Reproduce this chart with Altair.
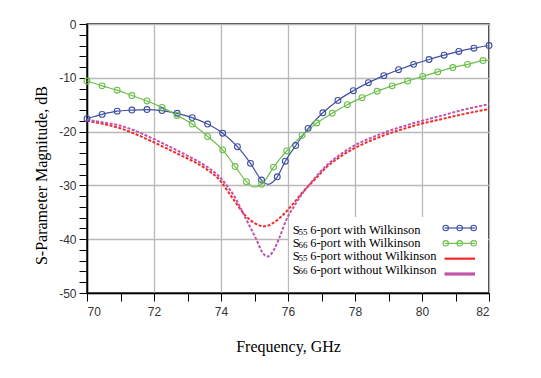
import altair as alt
import pandas as pd

# ---------------- data ----------------
series_names = ["S55 with", "S66 with", "S55 without", "S66 without"]
series_colors = ["#3f50a2", "#6cbf4c", "#f42a2a", "#c055aa"]
legend_main = ["S", "S", "S", "S"]
legend_sub = ["55", "66", "55", "66"]
legend_rest = [
    "6-port with Wilkinson",
    "6-port with Wilkinson",
    "6-port without Wilkinson",
    "6-port without Wilkinson",
]

# S55 with Wilkinson: marker points
s55w_f = [70.00, 70.45, 70.90, 71.34, 71.79, 72.24, 72.69, 73.14, 73.60, 74.05,
          74.49, 74.88, 75.21, 75.68, 75.92, 76.23, 76.60, 77.04, 77.49, 77.95,
          78.40, 78.86, 79.30, 79.75, 80.21, 80.66, 81.10, 81.55, 82.00]
s55w_db = [-17.6, -16.8, -16.2, -16.0, -15.9, -16.1, -16.6, -17.4, -18.6, -20.3,
           -22.8, -25.9, -29.0, -28.4, -25.5, -22.6, -19.4, -16.5, -14.2, -12.4,
           -10.9, -9.6, -8.5, -7.5, -6.6, -5.8, -5.1, -4.5, -4.0]
# extra curve points between markers
s55w_extra_f = [75.40]
s55w_extra_db = [-29.8]

# S66 with Wilkinson: marker points
s66w_f = [70.00, 70.45, 70.90, 71.34, 71.79, 72.24, 72.69, 73.14, 73.60, 74.05,
          74.42, 74.76, 75.21, 75.57, 75.96, 76.42, 76.86, 77.32, 77.77, 78.21,
          78.66, 79.11, 79.57, 80.02, 80.47, 80.92, 81.36, 81.82]
s66w_db = [-10.6, -11.5, -12.3, -13.3, -14.3, -15.5, -17.0, -18.6, -20.9, -23.4,
           -26.5, -29.3, -29.8, -26.6, -23.6, -20.7, -18.4, -16.6, -15.0, -13.7,
           -12.5, -11.5, -10.6, -9.75, -8.9, -8.1, -7.5, -6.8]
s66w_extra_f = [74.98, 82.00]
s66w_extra_db = [-30.3, -6.7]

# S55 without Wilkinson
s55n_f = [70.0, 70.5, 71.0, 71.5, 72.0, 72.5, 73.0, 73.5, 74.0, 74.36, 74.76,
          75.0, 75.3, 75.55, 75.8, 76.1, 76.45, 76.8, 77.15, 77.6, 78.04, 78.54,
          79.0, 79.5, 80.0, 80.43, 81.2, 82.0]
s55n_db = [-18.0, -18.6, -19.4, -20.6, -22.0, -23.5, -25.0, -26.7, -29.3, -32.5,
           -35.8, -37.0, -37.6, -37.0, -35.8, -33.8, -31.2, -28.9, -26.6, -24.5,
           -22.9, -21.5, -20.4, -19.4, -18.5, -17.9, -16.8, -15.8]

# S66 without Wilkinson
s66n_f = [70.0, 70.5, 71.0, 71.5, 72.0, 72.5, 73.0, 73.5, 74.0, 74.46,
          74.76, 75.06, 75.25, 75.4, 75.55, 75.75, 75.95, 76.2, 76.45, 76.75,
          77.15, 77.6, 78.04, 78.54, 79.0, 79.5, 80.0, 80.43, 81.2, 82.0]
s66n_db = [-17.8, -18.3, -18.9, -20.0, -21.4, -22.9, -24.5, -26.2, -28.7, -32.7,
           -36.4, -40.1, -42.6, -43.2, -42.3, -39.6, -36.4, -33.7, -31.3, -29.0,
           -26.3, -24.1, -22.4, -21.0, -19.9, -18.9, -18.0, -17.3, -16.0, -14.9]

x_ticks = list(range(70, 83))
y_ticks = list(range(-50, 1, 2))


def table(name, fs, dbs):
    return pd.DataFrame({"series": name, "f": fs, "db": dbs})


markers_df = pd.concat([table(series_names[0], s55w_f, s55w_db),
                        table(series_names[1], s66w_f, s66w_db)])
solid_df = pd.concat([
    table(series_names[0], s55w_f + s55w_extra_f, s55w_db + s55w_extra_db),
    table(series_names[1], s66w_f + s66w_extra_f, s66w_db + s66w_extra_db),
]).sort_values(["series", "f"])
dashed_df = pd.concat([table(series_names[2], s55n_f, s55n_db),
                       table(series_names[3], s66n_f, s66n_db)])
legend_df = pd.DataFrame({"series": series_names, "main": legend_main,
                          "sub": legend_sub, "rest": legend_rest})

# ---------------- chart ----------------
cscale = alt.Scale(domain=series_names, range=series_colors)
color = alt.Color("series:N", scale=cscale, legend=None)

x_axis = alt.Axis(
    values=x_ticks,
    labelExpr="datum.value % 2 === 0 ? '' + datum.value : ''",
    gridOpacity={"condition": {"test": "datum.value % 2 === 0", "value": 1}, "value": 0},
    title="Frequency, GHz",
    titleX=201, titleY=58, titleBaseline="alphabetic",
    labelPadding=5,
)
y_axis = alt.Axis(
    values=y_ticks,
    labelExpr="datum.value % 10 === 0 ? '' + datum.value : ''",
    gridOpacity={"condition": {"test": "datum.value % 10 === 0", "value": 1}, "value": 0},
    title="S-Parameter Magnitude, dB",
    titleX=-41, titleY=151, titleBaseline="alphabetic", titleAngle=270,
    labelPadding=3,
)

X = alt.X("f:Q", scale=alt.Scale(domain=[70, 82], nice=False, zero=False), axis=x_axis)
Y = alt.Y("db:Q", scale=alt.Scale(domain=[-50, 0], nice=False), axis=y_axis)

dashed = alt.Chart(dashed_df).mark_line(
    strokeDash=[3, 1.6], strokeWidth=2, interpolate="monotone"
).encode(x=X, y=Y, color=color)

solid = alt.Chart(solid_df).mark_line(
    strokeWidth=1.2, interpolate="monotone"
).encode(x=X, y=Y, color=color)

points = alt.Chart(markers_df).mark_point(
    shape="circle", filled=False, size=34, strokeWidth=1.1, opacity=1
).encode(x=X, y=Y, color=color)

main = alt.layer(dashed, solid, points)

# ---------------- manual legend ----------------
leg_bg = alt.Chart(legend_df).mark_rect(color="white").encode(
    x=alt.value(202), x2=alt.value(401), y=alt.value(193), y2=alt.value(268)
)

text_y = alt.Y("series:N", scale=alt.Scale(type="point", domain=series_names,
                                           range=[210, 249.5], padding=0), axis=None)
text_style = dict(align="left", baseline="alphabetic", font="Liberation Serif",
                  color="black")
leg_text = alt.layer(
    alt.Chart(legend_df).mark_text(fontSize=12.5, **text_style)
    .encode(x=alt.value(205.8), y=text_y, text="main:N"),
    alt.Chart(legend_df).mark_text(fontSize=9, dy=0.5, **text_style)
    .encode(x=alt.value(211.5), y=text_y, text="sub:N"),
    alt.Chart(legend_df).mark_text(fontSize=12.5, **text_style)
    .encode(x=alt.value(223.2), y=text_y, text="rest:N"),
)

sym_y = alt.Y("series:N", scale=alt.Scale(type="point", domain=series_names,
                                          range=[204, 250], padding=0), axis=None)
sym_layers = []
for name, w in zip(series_names, [1.2, 1.2, 2.2, 3.2]):
    sym_layers.append(
        alt.Chart(legend_df).transform_filter(alt.datum.series == name)
        .mark_rule(strokeWidth=w)
        .encode(x=alt.value(357.5), x2=alt.value(388), y=sym_y, color=color)
    )
for xpos in [358.7, 372.7, 386.7]:
    sym_layers.append(
        alt.Chart(legend_df).transform_filter(
            alt.FieldOneOfPredicate(field="series", oneOf=series_names[:2]))
        .mark_point(shape="circle", filled=False, size=30, strokeWidth=1.1, opacity=1)
        .encode(x=alt.value(xpos), y=sym_y, color=color)
    )
leg_sym = alt.layer(*sym_layers)

chart = alt.layer(main, leg_bg, leg_text, leg_sym).resolve_scale(
    x="independent", y="independent", color="independent"
).properties(
    width=402, height=269,
    autosize=alt.AutoSizeParams(type="none"),
    padding={"left": 87, "top": 24, "right": 52, "bottom": 85},
    background="white",
).configure_view(
    stroke="black", strokeWidth=1.5
).configure_axis(
    domainColor="black", domainWidth=1.5,
    tickColor="black", tickWidth=1, tickSize=8,
    gridColor="#b9b9b9", gridWidth=1.3,
    labelFont="Liberation Sans", labelFontSize=12, labelColor="#333333",
    titleFont="Liberation Serif", titleFontSize=16, titleFontWeight="normal",
    titleColor="black",
)

chart.save("out.html", embed_options={"renderer": "svg", "actions": False})
